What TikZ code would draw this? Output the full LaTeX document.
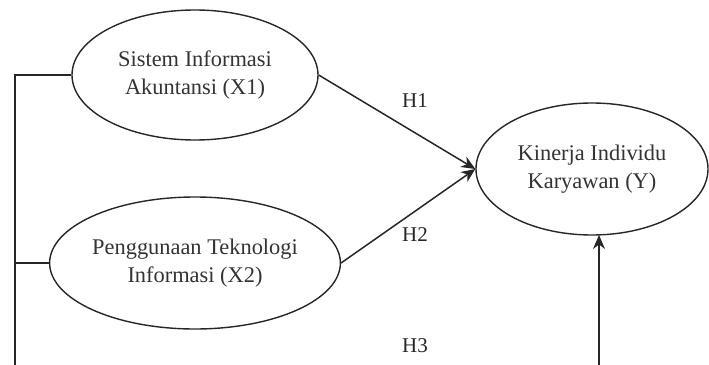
\documentclass[tikz,border=0pt]{standalone}
\usepackage{fontspec}
\setmainfont{Liberation Serif}
\usetikzlibrary{shapes.geometric,arrows.meta}
\begin{document}
\begin{tikzpicture}[x=1pt,y=-1pt,
  latent/.style={ellipse,draw=black!85,line width=1.4pt,inner sep=0pt,text=black!80,
    align=center,font=\fontsize{22.4}{28}\selectfont},
  conn/.style={line width=1.5pt,draw=black!85},
  arr/.style={conn,-{Stealth[length=14pt,width=12pt]}},
  hlabel/.style={text=black!85,font=\fontsize{21}{24}\selectfont,inner sep=0pt}]
\useasboundingbox (0,0) rectangle (709,364);
\node[latent,minimum width=246pt,minimum height=130pt] (x1) at (195,75) {Sistem Informasi\\Akuntansi (X1)};
\node[latent,minimum width=246pt,minimum height=132pt] (x2) at (195,263) {Penggunaan Teknologi\\Informasi (X2)};
\node[latent,minimum width=232pt,minimum height=132pt] (y) at (592,169) {Kinerja Individu\\Karyawan (Y)};
\coordinate (bl) at (15,366);
\coordinate (br) at (599,366);
\coordinate (yb) at (599,235);
\draw[conn] (x1.west) -| (bl);
\draw[conn] (x2.west) -- (x2.west -| bl);
\draw[arr] (x1.east) -- (y.west);
\draw[arr] (x2.east) -- (y.west);
\draw[arr] (br) -- (yb);
\node[hlabel] (h1) at (415,101) {H1};
\node[hlabel] (h2) at (415,235) {H2};
\node[hlabel] (h3) at (415,346) {H3};
\end{tikzpicture}
\end{document}
